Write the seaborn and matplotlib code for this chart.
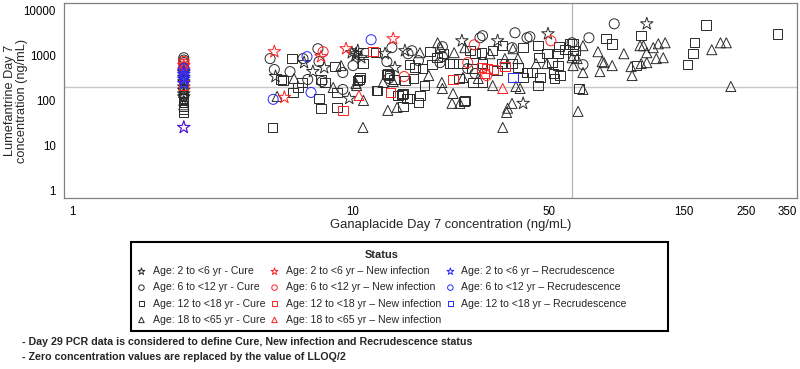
import matplotlib
matplotlib.use("Agg")
import matplotlib.pyplot as plt
import seaborn as sns
import pandas as pd
from matplotlib.patches import Rectangle

sns.set_theme(style="white")
plt.rcParams['font.family'] = ['Liberation Sans', 'DejaVu Sans']

# zero concentrations replaced by LLOQ/2 -> one stacked column
X_LLOQ = 2.5

# (ganaplacide, lumefantrine) pairs, ng/mL
cure_2_6 = [(5.3, 342), (6.7, 700), (7.2, 441), (7.9, 540), (9.7, 111), (9.9, 1165), (10.2, 1000),
            (10.4, 1290), (10.7, 900), (10.25, 1105), (13.0, 1105), (14.1, 540), (15.3, 1290),
            (24.4, 2150), (32.7, 2150), (40.3, 86), (49.4, 3080), (111, 5140)]
cure_6_12 = [(5.07, 860), (5.25, 490), (5.97, 441), (6.64, 860), (6.9, 294), (7.5, 1430), (7.57, 736),
             (7.76, 265), (9.2, 420), (9.2, 176), (10.0, 600), (13.75, 1510), (13.2, 736), (13.4, 310),
             (15.7, 1105), (20.8, 950), (25.6, 515), (27.2, 399), (28.3, 2510), (28.9, 2790),
             (37.7, 3245), (41.6, 2510), (42.6, 2650), (60.2, 1940), (69.1, 2510), (65.8, 630),
             (85, 5140), (20.8, 1590), (20.4, 700), (17.1, 775), (16.2, 1290), (36.8, 1510)]
cure_12_18 = [(5.16, 25), (5.55, 294), (5.64, 278), (6.07, 860), (6.12, 151), (6.37, 195), (6.58, 252),
              (7.7, 294), (7.57, 111), (7.7, 67), (7.96, 252), (8.64, 570), (8.78, 151), (8.78, 70),
              (10.5, 294), (10.6, 325), (10.85, 1165), (10.85, 665), (12.0, 1165), (12.1, 167),
              (13.3, 399), (14.0, 294), (14.45, 129), (13.2, 379), (13.5, 360), (12.2, 167),
              (15.9, 630), (16.6, 540), (17.7, 515), (16.45, 310), (15.3, 278), (18.0, 215),
              (17.3, 129), (17.1, 90), (14.95, 136), (15.55, 111), (15.9, 111), (18.8, 1225),
              (21.0, 1105), (22.1, 665), (19.1, 630), (19.9, 900), (10.4, 278), (15.05, 74),
              (25.0, 100), (26.1, 1290), (27.2, 1105), (28.7, 1165), (31.4, 1290), (34.1, 1670),
              (40.3, 1510), (45.6, 1670), (45.9, 900), (49.0, 1105), (22.7, 665), (24.6, 665),
              (26.5, 515), (28.9, 665), (32.5, 464), (33.8, 665), (36.8, 665), (38.6, 540),
              (41.6, 420), (43.3, 420), (46.3, 325), (23.8, 310), (26.7, 252), (28.9, 252),
              (40.3, 325), (45.6, 215), (24.8, 95), (54, 1590), (53.6, 1105), (56.8, 1360),
              (58.8, 1840), (60.7, 1840), (61.7, 1290), (60.7, 1000), (51, 700), (53.6, 600),
              (51.8, 399), (54.5, 360), (52.2, 310), (63.7, 185), (79.6, 2390), (83.6, 1840),
              (106, 2790), (102, 600), (180, 4880), (324, 3080), (164, 1940), (162, 1105),
              (155, 630), (15.05, 143)]
cure_18_65 = [(5.37, 123), (6.17, 310), (8.5, 195), (9.07, 600), (10.25, 239), (10.9, 100), (10.85, 25),
              (12.8, 252), (13.3, 60), (14.35, 70), (17.3, 1165), (20.0, 1940), (20.5, 1510),
              (13.9, 265), (20.7, 252), (20.8, 185), (22.7, 143), (10.3, 215), (22.9, 1165),
              (25.0, 1510), (30.7, 1105), (34.7, 860), (37.1, 1430), (38.6, 860), (49, 665),
              (44.8, 665), (24.6, 325), (27.9, 310), (31.4, 215), (39.3, 185), (38, 205),
              (22.5, 86), (24.0, 86), (36.8, 86), (35.5, 67), (35.2, 54), (34.1, 25), (65.8, 1670),
              (74.4, 1225), (60.2, 900), (62.7, 860), (60.7, 600), (77, 736), (78.2, 700),
              (83.6, 600), (75.6, 441), (92, 1105), (98.4, 360), (105, 1670), (108, 1670),
              (111, 1165), (117, 1510), (122, 1840), (129, 1940), (120, 860), (127, 900),
              (97.6, 570), (106, 665), (111, 700), (65.8, 420), (65.8, 176), (63.2, 57),
              (189, 1360), (203, 1940), (213, 1940), (221, 205), (18.6, 360)]
new_2_6 = [(5.25, 1225), (5.7, 117), (7.7, 950), (9.45, 1430), (13.9, 2390)]
new_6_12 = [(7.83, 1225), (15.2, 342), (27, 1750), (25.6, 700), (29.9, 360), (50.6, 2150)]
new_12_18 = [(9.2, 60), (11.8, 1225), (13.6, 151), (22.7, 294), (28.7, 540), (30.0, 515),
             (31.6, 490), (34.7, 570), (29.4, 400)]
new_18_65 = [(10.5, 129), (34.1, 185)]
rec_2_6 = []
rec_6_12 = [(5.2, 106), (6.86, 950), (7.09, 151), (11.6, 2270)]
rec_12_18 = [(37.1, 325)]

# lumefantrine values in the LLOQ/2 column
col_cure_2_6 = [420, 330, 260, 200, 170, 140, 120]
col_cure_6_12 = [900, 800, 700, 280, 180, 130]
col_cure_12_18 = [110, 90, 75, 65, 55]
col_cure_18_65 = [150, 100, 80]
col_new_2_6 = [600, 480, 25]
col_new_6_12 = [750, 650, 560]
col_new_12_18 = [220]
col_new_18_65 = []
col_rec_2_6 = [450, 380, 300, 240, 25]
col_rec_6_12 = [520, 350]
col_rec_12_18 = []

labels = ["Age: 2 to <6 yr - Cure", "Age: 6 to <12 yr - Cure", "Age: 12 to <18 yr - Cure",
          "Age: 18 to <65 yr - Cure",
          "Age: 2 to <6 yr \u2013 New infection", "Age: 6 to <12 yr \u2013 New infection",
          "Age: 12 to <18 yr \u2013 New infection", "Age: 18 to <65 yr \u2013 New infection",
          "Age: 2 to <6 yr \u2013 Recrudescence", "Age: 6 to <12 yr \u2013 Recrudescence",
          "Age: 12 to <18 yr \u2013 Recrudescence"]
points = [cure_2_6, cure_6_12, cure_12_18, cure_18_65, new_2_6, new_6_12, new_12_18, new_18_65,
          rec_2_6, rec_6_12, rec_12_18]
column = [col_cure_2_6, col_cure_6_12, col_cure_12_18, col_cure_18_65, col_new_2_6, col_new_6_12,
          col_new_12_18, col_new_18_65, col_rec_2_6, col_rec_6_12, col_rec_12_18]
markers = ['*', 'o', 's', '^'] * 2 + ['*', 'o', 's']
sizes = {'*': 90, 'o': 52, 's': 46, '^': 52}
colors = ['#2a2a2a'] * 4 + ['#ff2020'] * 4 + ['#2828ff'] * 3

rows = []
for lab, pts, col in zip(labels, points, column):
    rows += [(x, y, lab) for x, y in pts]
    rows += [(X_LLOQ, y, lab) for y in col]
df = pd.DataFrame(rows, columns=['gana', 'lume', 'group'])

fig = plt.figure(figsize=(8, 3.69), dpi=100)
ax = fig.add_axes([64 / 800, 1 - 198 / 369, 733 / 800, 195 / 369])

ax.axhline(200, color='#c8c8c8', lw=1, zorder=0)
ax.axvline(60, color='#b4b4b4', lw=0.9, zorder=0)

for lab, m, c in zip(labels, markers, colors):
    sub = df[df['group'] == lab]
    sns.scatterplot(data=sub, x='gana', y='lume', marker=m, s=sizes[m], color=c,
                    facecolor='none', edgecolor=c, linewidth=0.7, ax=ax, label=lab)

ax.set_xscale('log')
ax.set_yscale('log')
ax.set_xlim(0.937, 380)
ax.set_ylim(0.664, 15000)
ax.set_xticks([1, 10, 50, 150, 250, 350])
ax.set_xticklabels(['1', '10', '50', '150', '250', '350'])
ax.set_yticks([1, 10, 100, 1000, 10000])
ax.set_yticklabels(['1', '10', '100', '1000', '10000'])
ax.minorticks_off()
ax.tick_params(axis='both', which='major', length=4, width=0.8, color='#808080',
               labelsize=8.3, labelcolor='black', direction='out', pad=2)
for sp in ax.spines.values():
    sp.set_color('#808080')
    sp.set_linewidth(0.9)

ax.set_xlabel('Ganaplacide Day 7 concentration (ng/mL)', fontsize=9.4)
ax.xaxis.set_label_coords(0.527, -0.108)
ax.set_ylabel('Lumefantrine Day 7\nconcentration (ng/mL)', fontsize=9.2, linespacing=1.0)
ax.yaxis.set_label_coords(-0.049, 0.5)

handles, labs = ax.get_legend_handles_labels()
if ax.get_legend() is not None:
    ax.get_legend().remove()

fig.patches.append(Rectangle((131 / 800, 1 - 331 / 369), 537 / 800, 89 / 369, transform=fig.transFigure,
                             fill=False, ec='black', lw=1.5))
leg = fig.legend(handles, labs, loc='upper left', bbox_to_anchor=(133 / 800, 1 - 247 / 369),
                 ncol=3, frameon=False, title='Status', fontsize=7.6, markerscale=0.55,
                 handlelength=1.0, handletextpad=0.55, columnspacing=0.4, labelspacing=0.58,
                 borderpad=0.3, borderaxespad=0)
leg.get_title().set_fontweight('bold')
leg.get_title().set_fontsize(7.9)

fig.text(22 / 800, 1 - 342 / 369,
         '- Day 29 PCR data is considered to define Cure, New infection and Recrudescence status',
         fontsize=7.7, fontweight='bold', va='center')
fig.text(22 / 800, 1 - 357 / 369, '- Zero concentration values are replaced by the value of LLOQ/2',
         fontsize=7.7, fontweight='bold', va='center')

fig.savefig('out.png', dpi=100, facecolor='white')
